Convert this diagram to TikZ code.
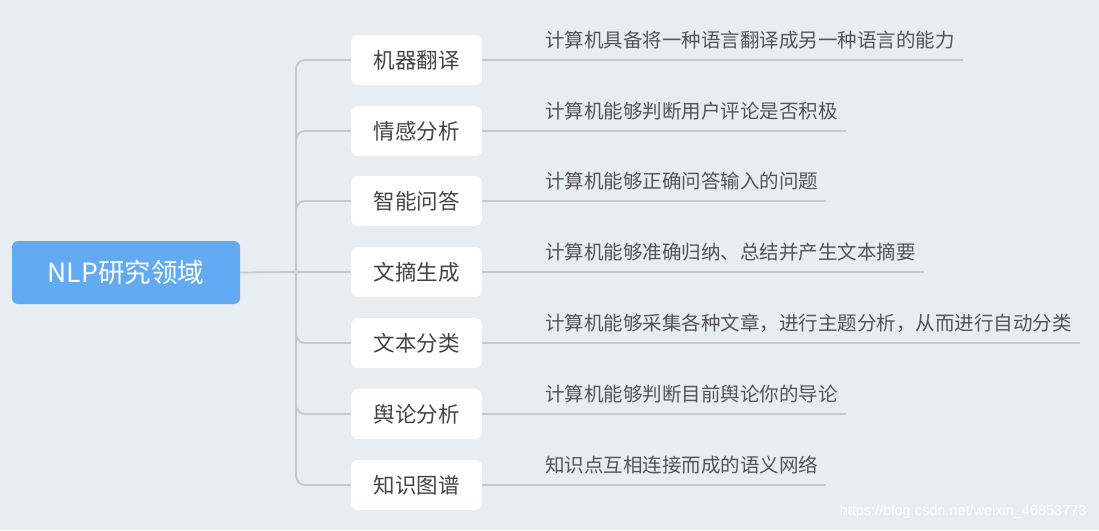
\documentclass[tikz,border=0pt]{standalone}
\usepackage{fontspec}
\setmainfont{Noto Sans CJK SC}
\newfontfamily\urlfont{Liberation Sans}
\usetikzlibrary{positioning}
\definecolor{nlpbg}{HTML}{E8EDF1}
\definecolor{nlpblue}{HTML}{62AAF1}
\definecolor{nlpline}{HTML}{C8C8CC}
\definecolor{nlptext}{HTML}{444444}
\definecolor{nlpdesc}{HTML}{555555}

\begin{document}
\begin{tikzpicture}[x=1pt,y=-1pt,
  root/.style={rectangle,rounded corners=6pt,fill=nlpblue,text=white,minimum width=228pt,minimum height=63pt,font=\fontsize{26.5}{31}\selectfont},
  topic/.style={rectangle,rounded corners=7pt,fill=white,text=nlptext,minimum width=131pt,minimum height=50pt,font=\fontsize{21.5}{26}\selectfont},
  desc/.style={anchor=base west,inner xsep=8pt,inner ysep=0pt,text=nlpdesc,font=\fontsize{19.5}{23}\selectfont},
  link/.style={draw=nlpline,line width=1.8pt},
  branch/.style={link,rounded corners=9pt}]

  % canvas
  \fill[nlpbg] (0,0) rectangle (1099,530);

  % root node
  \node[root] (root) at (126,272.5) {NLP研究领域};
  \coordinate (trunk) at (296,272);

  % topics
  \node[topic] (t1) at (416.5,60)  {机器翻译};
  \node[topic] (t2) at (416.5,131) {情感分析};
  \node[topic] (t3) at (416.5,201) {智能问答};
  \node[topic] (t4) at (416.5,272) {文摘生成};
  \node[topic] (t5) at (416.5,343) {文本分类};
  \node[topic] (t6) at (416.5,414) {舆论分析};
  \node[topic] (t7) at (416.5,485) {知识图谱};

  % descriptions
  \node[desc] (d1) at (537,47)  {计算机具备将一种语言翻译成另一种语言的能力};
  \node[desc] (d2) at (537,118) {计算机能够判断用户评论是否积极};
  \node[desc] (d3) at (537,188) {计算机能够正确问答输入的问题};
  \node[desc] (d4) at (537,259) {计算机能够准确归纳、总结并产生文本摘要};
  \node[desc] (d5) at (537,330) {计算机能够采集各种文章，进行主题分析，从而进行自动分类};
  \node[desc] (d6) at (537,401) {计算机能够判断目前舆论你的导论};
  \node[desc] (d7) at (537,472) {知识点互相连接而成的语义网络};

  % connectors
  \draw[link] (root.east) -- (trunk);
  \draw[branch] (trunk) |- (t1.west);
  \draw[branch] (trunk) |- (t2.west);
  \draw[branch] (trunk) |- (t3.west);
  \draw[link]   (trunk) -- (t4.west);
  \draw[branch] (trunk) |- (t5.west);
  \draw[branch] (trunk) |- (t6.west);
  \draw[branch] (trunk) |- (t7.west);

  \draw[link] (t1.east) -- (t1.east -| d1.east);
  \draw[link] (t2.east) -- (t2.east -| d2.east);
  \draw[link] (t3.east) -- (t3.east -| d3.east);
  \draw[link] (t4.east) -- (t4.east -| d4.east);
  \draw[link] (t5.east) -- (t5.east -| d5.east);
  \draw[link] (t6.east) -- (t6.east -| d6.east);
  \draw[link] (t7.east) -- (t7.east -| d7.east);

  % watermark
  \node[anchor=east,text=white,font=\urlfont\fontsize{14.5}{17}\selectfont] (mark) at (1090,512) {https://blog.csdn.net/weixin\_46853773};

\end{tikzpicture}
\end{document}
